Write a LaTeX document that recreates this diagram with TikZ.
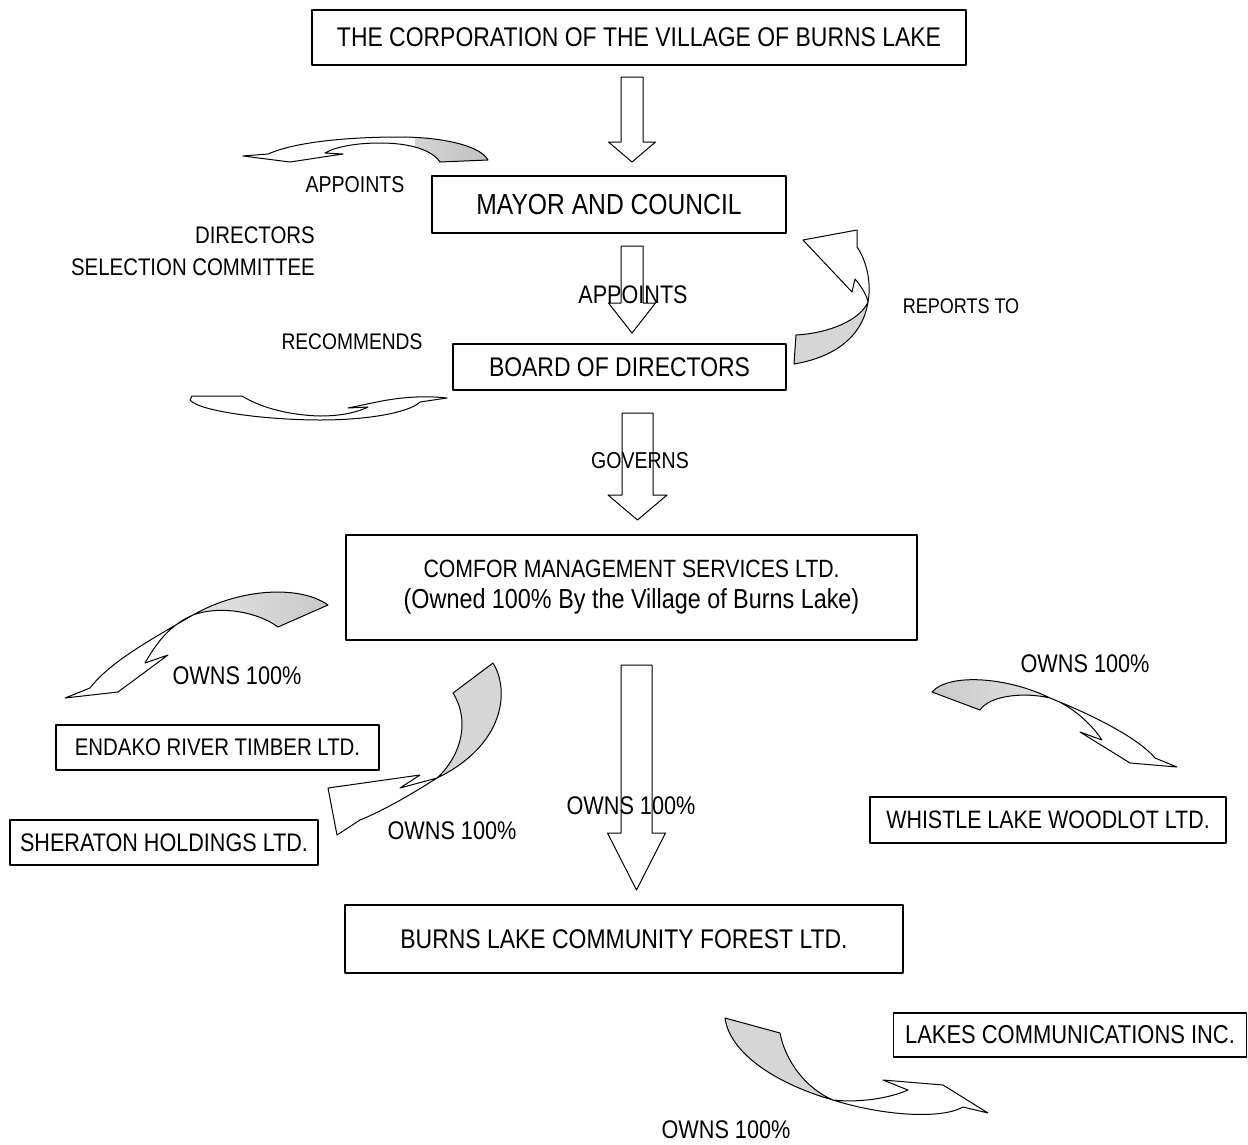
\documentclass[tikz,border=0pt]{standalone}
\usepackage{fontspec}
\setmainfont[FakeStretch=0.85]{Liberation Sans}
\usepackage{tikz}
\usetikzlibrary{calc}
% down block arrow: x, top, head base, tip, shaft half width, head half width
\newcommand{\downblock}[6]{%
  \draw[blk] (#1-#5,#2) -- (#1+#5,#2) -- (#1+#5,#3) -- (#1+#6,#3) -- (#1,#4)
    -- (#1-#6,#3) -- (#1-#5,#3) -- cycle;}

\begin{document}
\begin{tikzpicture}[x=1pt, y=-1pt, line join=round,
  box/.style={draw, line width=1.2pt, inner sep=0pt, align=center},
  lbl/.style={inner sep=0pt, font=\fontsize{23}{28}\selectfont},
  owns/.style={inner sep=0pt, font=\fontsize{25.5}{30}\selectfont},
  blk/.style={draw, line width=1pt, fill=white},
  curl/.style={draw, line width=1pt}]
\useasboundingbox (0,0) rectangle (1248,1144);

% boxes
\node[box, minimum width=654pt, minimum height=55pt, font=\fontsize{27}{30}\selectfont] (corp) at (639,37.5) {THE CORPORATION OF THE VILLAGE OF BURNS LAKE};
\node[box, minimum width=354pt, minimum height=57pt, font=\fontsize{29}{32}\selectfont] (mayor) at (609,204.5) {MAYOR AND COUNCIL};
\node[box, minimum width=333pt, minimum height=46pt, font=\fontsize{27}{30}\selectfont] (board) at (619.5,367) {BOARD OF DIRECTORS};
\node[box, minimum width=571pt, minimum height=105pt, font=\fontsize{25}{31}\selectfont] (comfor) at (631.5,587.5)
  {COMFOR MANAGEMENT SERVICES LTD.\\{\fontsize{27.5}{31}\selectfont (Owned 100\% By the Village of Burns Lake)}};
\node[box, minimum width=323pt, minimum height=45pt, font=\fontsize{24}{28}\selectfont] (endako) at (217.5,747.5) {ENDAKO RIVER TIMBER LTD.};
\node[box, minimum width=308pt, minimum height=45pt, font=\fontsize{25.4}{28}\selectfont] (sheraton) at (164,842.5) {SHERATON HOLDINGS LTD.};
\node[box, minimum width=356pt, minimum height=46pt, font=\fontsize{25.2}{28}\selectfont] (whistle) at (1048,820) {WHISTLE LAKE WOODLOT LTD.};
\node[box, minimum width=558pt, minimum height=68pt, font=\fontsize{27}{30}\selectfont] (forest) at (624,939) {BURNS LAKE COMMUNITY FOREST LTD.};
\node[box, minimum width=353pt, minimum height=44pt, font=\fontsize{25.8}{28}\selectfont] (lakes) at (1070,1035) {LAKES COMMUNICATIONS INC.};

% straight block arrows
\downblock{632}{77}{142}{162}{11}{23.5}
\downblock{632}{246}{303}{333}{11}{23.5}
\downblock{637.5}{413}{495}{520}{15.5}{29.5}
\downblock{636.5}{665}{833}{890}{15.5}{29}

% curved arrows
\draw[curl, path picture={\shade[left color=white, right color=black!25] (415,130) rectangle (495,170);}]
  (243,156) -- (268,154) .. controls (300,140) and (360,137) .. (400,137)
  .. controls (440,137) and (480,145) .. (488,160) -- (440,162)
  .. controls (432,150) and (410,143) .. (380,143) .. controls (355,143) and (335,147) .. (325,153)
  -- (343,154) -- (323,157) -- (290,162) -- cycle;
\draw[curl, path picture={\fill[black!16] (785,301) rectangle (875,370);}]
  (796,335) -- (794,364) .. controls (830,358) and (862,340) .. (868,302)
  .. controls (872,280) and (865,258) .. (857,247) -- (857,230) -- (803,240) -- (852,292) -- (855,279)
  .. controls (860,285) and (866,293) .. (868,302) .. controls (860,320) and (830,333) .. (796,335) -- cycle;
\draw[curl]
  (192,396) -- (242,396) .. controls (258,406) and (285,415) .. (320,416)
  .. controls (345,416) and (360,411) .. (368,407) -- (348,408) -- (372,403)
  .. controls (395,398) and (420,395) .. (447,398) -- (420,402)
  .. controls (410,412) and (370,420) .. (320,420) .. controls (270,420) and (200,412) .. (190,400) -- cycle;
\draw[curl, path picture={\shade[left color=white, right color=black!22] (193,580) rectangle (335,640);}]
  (328,605) .. controls (300,585) and (240,588) .. (193,615)
  .. controls (150,640) and (110,662) .. (90,688) -- (65,698) -- (118,692) -- (168,655) -- (145,663)
  .. controls (158,640) and (172,624) .. (193,615) .. controls (220,605) and (258,612) .. (278,627) -- cycle;
\draw[curl, path picture={\fill[black!16] (425,655) rectangle (515,778);}]
  (493,663) .. controls (510,690) and (505,745) .. (437,778)
  .. controls (415,792) and (385,810) .. (360,820) -- (337,835) -- (328,788) -- (420,775) -- (400,788) -- (437,778)
  .. controls (462,755) and (470,720) .. (453,693) -- cycle;
\draw[curl, path picture={\shade[left color=black!22, right color=white] (925,665) rectangle (1050,715);}]
  (932,692) .. controls (950,672) and (1010,678) .. (1050,698)
  .. controls (1100,718) and (1140,740) .. (1155,758) -- (1177,767) -- (1130,763) -- (1080,732) -- (1102,740)
  .. controls (1090,722) and (1070,705) .. (1050,698) .. controls (1025,692) and (990,695) .. (980,710) -- cycle;
\draw[curl, path picture={\fill[black!16] (715,1010) rectangle (833,1100);}]
  (725,1018) -- (780,1033) .. controls (785,1060) and (805,1088) .. (833,1100)
  .. controls (860,1103) and (890,1098) .. (908,1090) -- (883,1080) -- (943,1085) -- (988,1113) -- (963,1107)
  .. controls (940,1120) and (880,1115) .. (833,1100) .. controls (780,1085) and (730,1055) .. (725,1018) -- cycle;

% labels
\node[lbl] (appointsa) at (355,185) {APPOINTS};
\node[lbl, anchor=east, align=right, font=\fontsize{24}{32}\selectfont] (dsc) at (315,251) {DIRECTORS\\SELECTION COMMITTEE};
\node[lbl, font=\fontsize{25.4}{28}\selectfont] (appointsb) at (633,295) {APPOINTS};
\node[lbl, font=\fontsize{21.2}{26}\selectfont] (reports) at (961,306) {REPORTS TO};
\node[lbl, font=\fontsize{22.6}{26}\selectfont] (recommends) at (352,342) {RECOMMENDS};
\node[lbl] (governs) at (640,461) {GOVERNS};
\node[owns] (ownsa) at (237,676) {OWNS 100\%};
\node[owns] (ownsb) at (1085,664) {OWNS 100\%};
\node[owns] (ownsc) at (452,831) {OWNS 100\%};
\node[owns] (ownsd) at (631,806) {OWNS 100\%};
\node[owns] (ownse) at (726,1130) {OWNS 100\%};
\end{tikzpicture}
\end{document}
